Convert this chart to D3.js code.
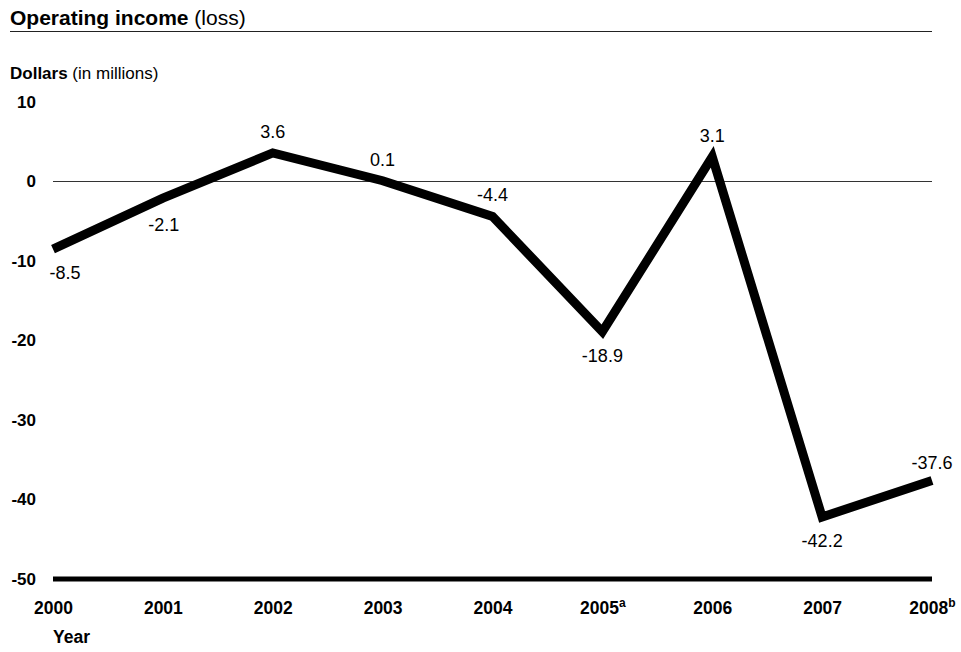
<!DOCTYPE html>
<html>
<head>
<meta charset="utf-8">
<script src="https://cdn.jsdelivr.net/npm/d3@7"></script>
<style>
  body { margin: 0; background: #fff; }
  svg { display: block; font-family: "Liberation Sans", Arial, Helvetica, sans-serif; }
</style>
</head>
<body>
<svg id="chart" width="961" height="652"></svg>
<script>
// Operating income (loss), dollars in millions
const years = ["2000", "2001", "2002", "2003", "2004", "2005", "2006", "2007", "2008"];
const yearNotes = ["", "", "", "", "", "a", "", "", "b"];
const income = [-8.5, -2.1, 3.6, 0.1, -4.4, -18.9, 3.1, -42.2, -37.6];
const labelSide = ["below", "below", "above", "above", "above", "below", "above", "below", "above"];
const yTicks = [10, 0, -10, -20, -30, -40, -50];

const svg = d3.select("#chart");
const left = 53, right = 932;
const FONT = "Liberation Sans, Arial, sans-serif";

const x = d3.scalePoint().domain(years).range([left, right]);
const y = d3.scaleLinear().domain([-50, 10]).range([579, 102]);

// Title and rule
const title = svg.append("text").attr("x", 10).attr("y", 25)
  .attr("font-size", 21).attr("fill", "#000");
title.append("tspan").attr("font-weight", "bold").text("Operating income");
title.append("tspan").text(" (loss)");
svg.append("line").attr("x1", 10).attr("x2", right).attr("y1", 31.5).attr("y2", 31.5)
  .attr("stroke", "#222").attr("stroke-width", 1.2);

// Unit label
const unit = svg.append("text").attr("x", 10).attr("y", 79)
  .attr("font-size", 17).attr("fill", "#000");
unit.append("tspan").attr("font-weight", "bold").text("Dollars");
unit.append("tspan").text(" (in millions)");

// Y axis tick labels
const yAxis = d3.axisLeft(y).tickValues(yTicks).tickSize(0).tickPadding(0)
  .tickFormat(d => String(d));
const yg = svg.append("g").attr("transform", "translate(36,0)").call(yAxis);
yg.select(".domain").remove();
yg.selectAll("text").attr("font-size", 17).attr("font-weight", "bold")
  .attr("fill", "#000").attr("font-family", FONT);

// Zero line
svg.append("line").attr("x1", left).attr("x2", right)
  .attr("y1", y(0)).attr("y2", y(0)).attr("stroke", "#333").attr("stroke-width", 1.2);

// Baseline at -50
svg.append("line").attr("x1", left).attr("x2", right)
  .attr("y1", y(-50)).attr("y2", y(-50)).attr("stroke", "#000").attr("stroke-width", 5);

// X axis labels
const xAxis = d3.axisBottom(x).tickSize(0).tickPadding(0).tickFormat(() => "");
const xg = svg.append("g").attr("transform", "translate(0,614)").call(xAxis);
xg.select(".domain").remove();
xg.selectAll(".tick text").each(function(d) {
  const t = d3.select(this).attr("font-size", 17.5).attr("font-weight", "bold")
    .attr("fill", "#000").attr("dy", 0).attr("y", 0)
    .attr("font-family", FONT);
  t.append("tspan").text(d);
  const note = yearNotes[years.indexOf(d)];
  if (note) {
    t.append("tspan").attr("font-size", 12).attr("dy", -7).text(note);
  }
});

svg.append("text").attr("x", 53).attr("y", 643).attr("font-size", 17.5)
  .attr("font-weight", "bold").attr("fill", "#000").text("Year");

// Income line
const data = years.map((yr, i) => ({ yr, v: income[i], side: labelSide[i] }));
svg.append("path").datum(data)
  .attr("fill", "none").attr("stroke", "#000").attr("stroke-width", 9)
  .attr("stroke-linejoin", "miter").attr("stroke-miterlimit", 3)
  .attr("d", d3.line().x(d => x(d.yr)).y(d => y(d.v)));

// Value labels
svg.append("g").selectAll("text").data(data).join("text")
  .attr("x", (d, i) => x(d.yr) + (i === 0 ? 12 : i === 1 ? 1 : 0))
  .attr("y", (d, i) => d.side === "above" ? y(d.v) - (i === 8 ? 11 : 15) : y(d.v) + (i === 1 ? 33 : 30))
  .attr("text-anchor", "middle")
  .attr("font-size", 18).attr("fill", "#000")
  .text(d => d.v.toFixed(1));
</script>
</body>
</html>
